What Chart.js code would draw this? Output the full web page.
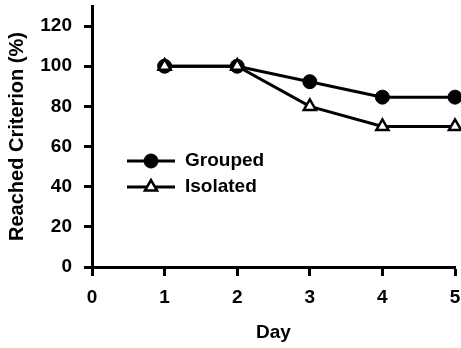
<!DOCTYPE html>
<html>
<head>
<meta charset="utf-8">
<script src="https://cdn.jsdelivr.net/npm/chart.js@4"></script>
<style>
  html, body { margin: 0; padding: 0; background: #fff; }
  #wrap { width: 461px; height: 348px; }
</style>
</head>
<body>
<div id="wrap"><canvas id="c" width="461" height="348"></canvas></div>
<script>
const days = [1, 2, 3, 4, 5];
const groupedValues = [100, 100, 92.3, 84.6, 84.6];
const isolatedValues = [100, 100, 80, 70, 70];
const seriesNames = ['Grouped', 'Isolated'];
const yTickValues = [0, 20, 40, 60, 80, 100, 120];
const xTitle = 'Day';
const yTitle = 'Reached Criterion (%)';

const FONT = '"Liberation Sans", Arial, Helvetica, sans-serif';

function drawMarker(ctx, style, r, bw, fill, x, y) {
  ctx.fillStyle = fill;
  ctx.strokeStyle = '#000';
  ctx.lineWidth = bw;
  ctx.beginPath();
  if (style === 'circle') {
    ctx.arc(x, y, r, 0, Math.PI * 2);
  } else {
    let rad = 0;
    ctx.moveTo(x + Math.sin(rad) * r, y - Math.cos(rad) * r);
    rad += 2 * Math.PI / 3;
    ctx.lineTo(x + Math.sin(rad) * r, y - Math.cos(rad) * r);
    rad += 2 * Math.PI / 3;
    ctx.lineTo(x + Math.sin(rad) * r, y - Math.cos(rad) * r);
    ctx.closePath();
  }
  ctx.fill(); ctx.stroke();
}

const legendPlugin = {
  id: 'insideLegend',
  afterDatasetsDraw(chart) {
    const ctx = chart.ctx;
    const a = chart.chartArea;
    const items = [
      { ds: chart.data.datasets[0], y: a.top + 155 },
      { ds: chart.data.datasets[1], y: a.top + 181 }
    ];
    ctx.save();
    items.forEach(it => {
      const x0 = a.left + 35, x1 = a.left + 83, xm = (x0 + x1) / 2;
      ctx.strokeStyle = '#000';
      ctx.lineWidth = 3;
      ctx.beginPath(); ctx.moveTo(x0, it.y); ctx.lineTo(x1, it.y); ctx.stroke();
      drawMarker(ctx, it.ds.pointStyle, it.ds.pointRadius, it.ds.pointBorderWidth, it.ds.pointBackgroundColor, xm, it.y);
      ctx.fillStyle = '#000';
      ctx.font = 'bold 19px ' + FONT;
      ctx.textAlign = 'left';
      ctx.textBaseline = 'middle';
      ctx.fillText(it.ds.label, a.left + 93, it.y);
    });
    ctx.restore();
  }
};

new Chart(document.getElementById('c'), {
  type: 'line',
  data: {
    datasets: [
      {
        label: seriesNames[0],
        data: days.map((d, i) => ({ x: d, y: groupedValues[i] })),
        borderColor: '#000', borderWidth: 3,
        pointStyle: 'circle', pointRadius: 7, pointBorderWidth: 1,
        pointBackgroundColor: '#000', pointBorderColor: '#000',
        order: 2, clip: false, tension: 0
      },
      {
        label: seriesNames[1],
        data: days.map((d, i) => ({ x: d, y: isolatedValues[i] })),
        borderColor: '#000', borderWidth: 3,
        pointStyle: 'triangle', pointRadius: 7, pointBorderWidth: 2.5,
        pointBackgroundColor: '#fff', pointBorderColor: '#000',
        order: 1, clip: false, tension: 0
      }
    ]
  },
  options: {
    responsive: false,
    animation: false,
    layout: { autoPadding: false, padding: { top: 6, right: 6, left: 0, bottom: 0 } },
    plugins: { legend: { display: false }, tooltip: { enabled: false } },
    scales: {
      x: {
        type: 'linear', min: 0, max: 5,
        afterFit(s) { s.height = 81; s.paddingRight = 0; s.paddingLeft = 0; },
        ticks: { stepSize: 1, color: '#000', padding: 10, font: { family: FONT, size: 19, weight: 'bold' } },
        grid: { drawOnChartArea: false, drawTicks: true, tickLength: 9, tickWidth: 3, tickColor: '#000' },
        border: { display: true, color: '#000', width: 3 },
        title: { display: true, text: xTitle, color: '#000', padding: { top: 0, bottom: 4 }, font: { family: FONT, size: 19, weight: 'bold' } }
      },
      y: {
        type: 'linear', min: 0, max: 130,
        afterFit(s) { s.width = 92; s.paddingTop = 0; s.paddingBottom = 0; },
        afterBuildTicks(s) { s.ticks = yTickValues.map(v => ({ value: v })); },
        ticks: { color: '#000', padding: 12, font: { family: FONT, size: 19, weight: 'bold' } },
        grid: { drawOnChartArea: false, drawTicks: true, tickLength: 8, tickWidth: 3, tickColor: '#000' },
        border: { display: true, color: '#000', width: 3 },
        title: { display: true, text: yTitle, color: '#000', padding: { top: 5, bottom: 0 }, font: { family: FONT, size: 20, weight: 'bold' } }
      }
    }
  },
  plugins: [legendPlugin]
});
</script>
</body>
</html>
